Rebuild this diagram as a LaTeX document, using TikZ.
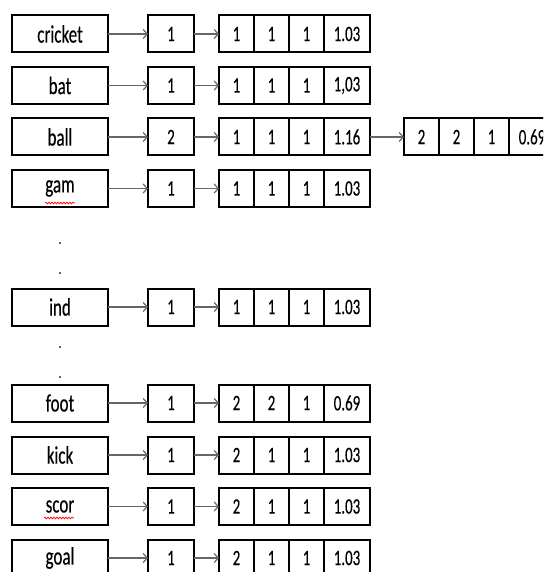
\documentclass[tikz,border=0pt]{standalone}
\usepackage{fontspec}
\setmainfont{Carlito}[FakeStretch=0.68,FakeBold=0.3]
\usetikzlibrary{arrows.meta,decorations.pathmorphing}
\tikzset{
  namebox/.style={draw=black, line width=2pt, minimum width=96pt, minimum height=37pt, inner sep=0pt, outer sep=0pt, font=\fontsize{25}{28}\selectfont},
  midbox/.style={draw=black, line width=2pt, minimum width=46pt, minimum height=37pt, inner sep=0pt, outer sep=0pt, font=\fontsize{22}{26}\selectfont},
  cellbox/.style={draw=black, line width=1.2pt, minimum width=35pt, minimum height=37pt, inner sep=0pt, outer sep=0pt, font=\fontsize{22}{26}\selectfont},
  widecell/.style={cellbox, minimum width=46pt},
  outline/.style={draw=black, line width=2pt},
  arr/.style={draw=black!60, line width=1.3pt, -{Straight Barb[length=4pt,width=9pt,line width=1.2pt]}},
  wavy/.style={draw=red, line width=0.7pt, decorate, decoration={snake, amplitude=0.9pt, segment length=3pt}},
  dotnode/.style={circle, fill=black!80, inner sep=0pt, minimum size=2.4pt}
}
\newcommand\wrow[8]{%
  \node[namebox] (n#1) at (60,#2) {#3};
  \node[midbox] (m#1) at (171,#2) {#4};
  \node[cellbox, anchor=west] (a#1) at (219,#2) {#5};
  \node[cellbox, anchor=west] (b#1) at (a#1.east) {#6};
  \node[cellbox, anchor=west] (c#1) at (b#1.east) {#7};
  \node[widecell, anchor=west] (d#1) at (c#1.east) {#8};
  \draw[outline] (a#1.north west) rectangle (d#1.south east);
  \draw[arr] (n#1) -- (m#1);
  \draw[arr] (m#1) -- (a#1);
}
\begin{document}
\begin{tikzpicture}[x=1pt,y=-1pt]
\useasboundingbox (0,0) rectangle (543,572);
\clip (0,0) rectangle (543,572);
\wrow{1}{34}{cricket}{1}{1}{1}{1}{1.03}
\wrow{2}{85.5}{bat}{1}{1}{1}{1}{1,03}
\wrow{3}{137}{ball}{2}{1}{1}{1}{1.16}
\wrow{4}{188.5}{gam}{1}{1}{1}{1}{1.03}
\wrow{5}{307}{ind}{1}{1}{1}{1}{1.03}
\wrow{6}{403}{foot}{1}{2}{2}{1}{0.69}
\wrow{7}{455}{kick}{1}{2}{1}{1}{1.03}
\wrow{8}{506.5}{scor}{1}{2}{1}{1}{1.03}
\wrow{9}{558}{goal}{1}{2}{1}{1}{1.03}
% extra list for ball
\node[cellbox, anchor=west] (ea) at (404,137) {2};
\node[cellbox, anchor=west] (eb) at (ea.east) {2};
\node[cellbox, anchor=west] (ec) at (eb.east) {1};
\node[widecell, anchor=west] (ed) at (ec.east) {0.69};
\draw[outline] (ea.north west) rectangle (ed.south east);
\draw[arr] (d3) -- (ea);
% spell-check underlines
\draw[wavy] (45,203) -- (75,203);
\draw[wavy] (44,518) -- (74,518);
% ellipsis dots
\node[dotnode] (p1) at (60,243) {};
\node[dotnode] (p2) at (60,273) {};
\node[dotnode] (p3) at (60,347) {};
\node[dotnode] (p4) at (60,377) {};
\end{tikzpicture}
\end{document}
